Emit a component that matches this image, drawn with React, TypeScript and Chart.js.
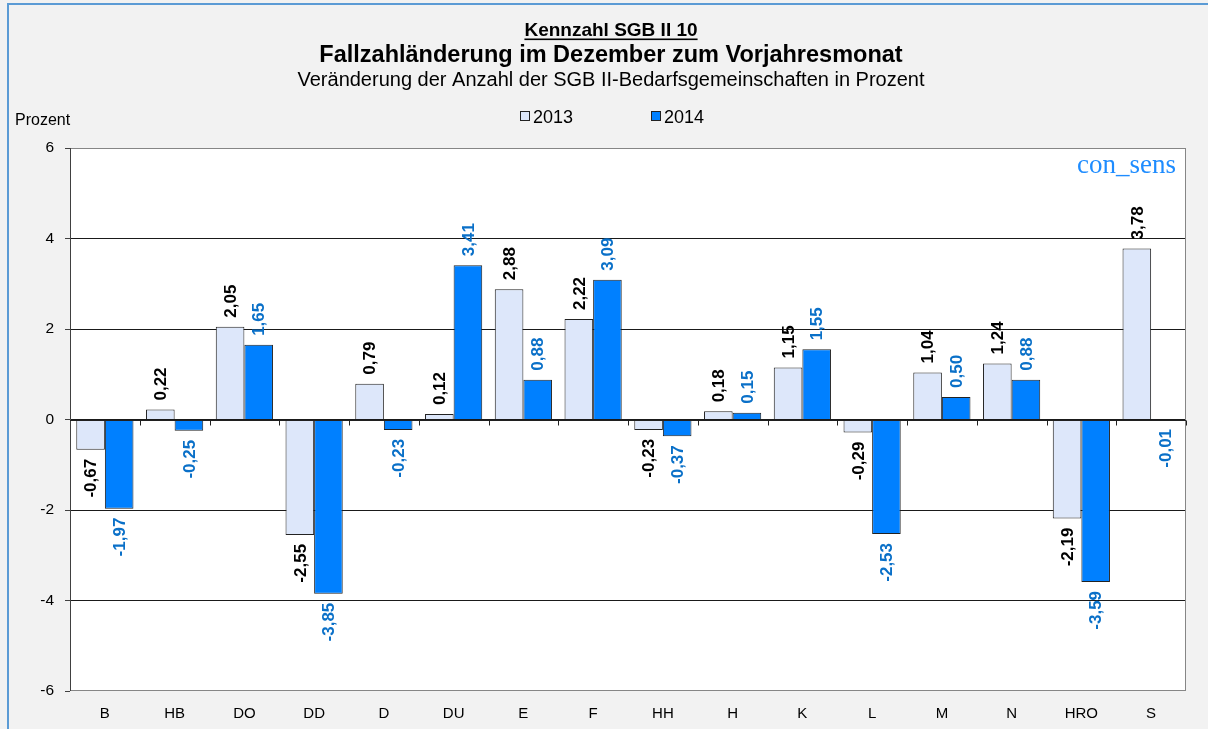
import React, { useEffect, useRef } from "react";
import { Chart, registerables } from "chart.js";

Chart.register(...registerables);

const categories = ["B", "HB", "DO", "DD", "D", "DU", "E", "F", "HH", "H", "K", "L", "M", "N", "HRO", "S"];
const values2013 = [-0.67, 0.22, 2.05, -2.55, 0.79, 0.12, 2.88, 2.22, -0.23, 0.18, 1.15, -0.29, 1.04, 1.24, -2.19, 3.78];
const values2014 = [-1.97, -0.25, 1.65, -3.85, -0.23, 3.41, 0.88, 3.09, -0.37, 0.15, 1.55, -2.53, 0.5, 0.88, -3.59, -0.01];
const seriesNames = ["2013", "2014"];
const yMin = -6;
const yMax = 6;
const yStep = 2;
const titleKennzahl = "Kennzahl SGB II 10";
const titleMain = "Fallzahländerung im Dezember zum Vorjahresmonat";
const titleSub = "Veränderung der Anzahl der SGB II-Bedarfsgemeinschaften in Prozent";
const yAxisTitle = "Prozent";
const brand = "con_sens";

const FONT = '"Liberation Sans", Arial, sans-serif';
const COLOR_2013 = "#dde7fa";
const COLOR_2014 = "#0080ff";
const LABEL_2013 = "#000000";
const LABEL_2014 = "#0a70c8";

const fmt = (v: number) => v.toFixed(2).replace(".", ",");

export default function App() {
  const ref = useRef<HTMLCanvasElement>(null);

  useEffect(() => {
    document.body.style.margin = "0";
    const canvas = ref.current;
    if (!canvas) return;

    const deco = {
      id: "deco",
      beforeDraw(chart: any) {
        const { ctx, chartArea: a, width, height } = chart;
        ctx.save();
        ctx.fillStyle = "#f2f2f2";
        ctx.fillRect(0, 0, width, height);
        ctx.fillStyle = "#ffffff";
        ctx.fillRect(a.left, a.top, a.right - a.left, a.bottom - a.top);
        // outer frame
        ctx.strokeStyle = "#5b9bd5";
        ctx.lineWidth = 2;
        ctx.beginPath();
        ctx.moveTo(8, height);
        ctx.lineTo(8, 4);
        ctx.lineTo(width, 4);
        ctx.stroke();
        ctx.restore();
      },
      afterDatasetsDraw(chart: any) {
        const { ctx, chartArea: a } = chart;
        const y = chart.scales.y;
        const n = categories.length;
        const step = (a.right - a.left) / n;
        ctx.save();
        // plot border
        ctx.strokeStyle = "#868686";
        ctx.lineWidth = 1;
        ctx.strokeRect(a.left + 0.5, a.top + 0.5, a.right - a.left - 1, a.bottom - a.top - 1);
        ctx.strokeStyle = "#404040";
        ctx.beginPath();
        ctx.moveTo(a.left + 0.5, a.top);
        ctx.lineTo(a.left + 0.5, a.bottom);
        ctx.stroke();
        // zero axis + ticks
        const y0 = Math.round(y.getPixelForValue(0)) + 0.5;
        ctx.strokeStyle = "#202020";
        ctx.beginPath();
        ctx.moveTo(a.left, y0);
        ctx.lineTo(a.right, y0);
        for (let i = 1; i <= n; i++) {
          const xx = Math.round(a.left + step * i) + 0.5;
          ctx.moveTo(xx, y0);
          ctx.lineTo(xx, y0 + 5);
        }
        ctx.stroke();

        // data labels
        ctx.font = `bold 17px ${FONT}`;
        ctx.textBaseline = "middle";
        chart.data.datasets.forEach((ds: any, di: number) => {
          const meta = chart.getDatasetMeta(di);
          ctx.fillStyle = di === 0 ? LABEL_2013 : LABEL_2014;
          meta.data.forEach((el: any, i: number) => {
            const v = ds.data[i];
            const txt = fmt(v);
            ctx.save();
            if (v >= 0) {
              ctx.translate(el.x, el.y - 9);
              ctx.rotate(-Math.PI / 2);
              ctx.textAlign = "left";
            } else {
              ctx.translate(el.x, el.y + 9);
              ctx.rotate(-Math.PI / 2);
              ctx.textAlign = "right";
            }
            ctx.fillText(txt, 0, 1);
            ctx.restore();
          });
        });

        // brand
        ctx.fillStyle = "#1e8cff";
        ctx.font = `27px "Liberation Serif", "Times New Roman", serif`;
        ctx.textAlign = "right";
        ctx.textBaseline = "alphabetic";
        ctx.fillText(brand, a.right - 10, 173);
        ctx.restore();
      },
      afterDraw(chart: any) {
        const { ctx } = chart;
        const cx = 611;
        ctx.save();
        ctx.fillStyle = "#000";
        ctx.textAlign = "center";
        ctx.textBaseline = "alphabetic";
        ctx.font = `bold 19px ${FONT}`;
        ctx.fillText(titleKennzahl, cx, 36);
        const w1 = ctx.measureText(titleKennzahl).width;
        ctx.fillRect(cx - w1 / 2, 38.5, w1, 1.6);
        ctx.font = `bold 23.5px ${FONT}`;
        ctx.fillText(titleMain, cx, 62);
        ctx.font = `20px ${FONT}`;
        ctx.fillText(titleSub, cx, 86);

        ctx.textAlign = "left";
        ctx.font = `16px ${FONT}`;
        ctx.fillText(yAxisTitle, 15, 125);

        // legend
        ctx.font = `18px ${FONT}`;
        const items = [
          { x: 520, color: COLOR_2013, label: seriesNames[0] },
          { x: 651, color: COLOR_2014, label: seriesNames[1] },
        ];
        items.forEach((it) => {
          ctx.fillStyle = it.color;
          ctx.fillRect(it.x + 0.5, 111.5, 9, 9);
          ctx.strokeStyle = "#222";
          ctx.lineWidth = 1;
          ctx.strokeRect(it.x + 0.5, 111.5, 9, 9);
          ctx.fillStyle = "#000";
          ctx.fillText(it.label, it.x + 13, 122.5);
        });
        ctx.restore();
      },
    };

    const chart = new Chart(canvas, {
      type: "bar",
      data: {
        labels: categories,
        datasets: [
          {
            label: seriesNames[0],
            data: values2013,
            backgroundColor: COLOR_2013,
            borderColor: "#222222",
            borderWidth: 1,
            categoryPercentage: 0.82,
            barPercentage: 1,
          },
          {
            label: seriesNames[1],
            data: values2014,
            backgroundColor: COLOR_2014,
            borderColor: "#222222",
            borderWidth: 1,
            categoryPercentage: 0.82,
            barPercentage: 1,
          },
        ],
      },
      options: {
        responsive: false,
        animation: false,
        events: [],
        layout: { padding: { left: 0, top: 148, right: 22, bottom: 0 } },
        plugins: {
          legend: { display: false },
          title: { display: false },
          tooltip: { enabled: false },
        },
        scales: {
          x: {
            grid: { display: false, drawTicks: false },
            border: { display: false },
            ticks: { color: "#000", font: { family: FONT, size: 15 }, padding: 14, maxRotation: 0 },
            afterFit: (s: any) => {
              s.height = 38;
            },
          },
          y: {
            min: yMin,
            max: yMax,
            ticks: {
              stepSize: yStep,
              color: "#000",
              font: { family: FONT, size: 15.5 },
              padding: 11,
              callback: (v: any) => String(v),
            },
            grid: {
              color: (c: any) => (c.tick && (c.tick.value === yMin || c.tick.value === yMax) ? "rgba(0,0,0,0)" : "#1a1a1a"),
              tickColor: "#404040",
              tickLength: 5,
              lineWidth: 1,
            },
            border: { display: false },
            afterFit: (s: any) => {
              s.width = 70;
            },
          },
        },
      },
      plugins: [deco],
    });

    return () => chart.destroy();
  }, []);

  return (
    <div style={{ width: 1208, height: 729 }}>
      <canvas ref={ref} width={1208} height={729} style={{ display: "block" }} />
    </div>
  );
}
